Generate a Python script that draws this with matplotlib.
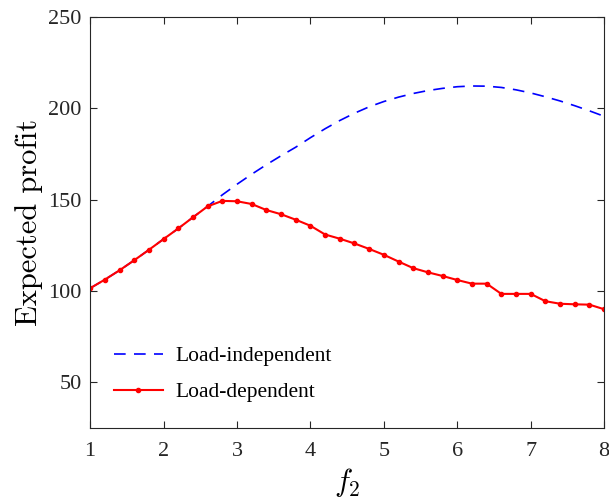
import matplotlib
matplotlib.use("Agg")
import matplotlib.pyplot as plt
import numpy as np

# f2 grid used for both curves
f2 = [1.0, 1.2, 1.4, 1.6, 1.8, 2.0, 2.2, 2.4, 2.6, 2.8,
      3.0, 3.2, 3.4, 3.6, 3.8, 4.0, 4.2, 4.4, 4.6, 4.8,
      5.0, 5.2, 5.4, 5.6, 5.8, 6.0, 6.2, 6.4, 6.6, 6.8,
      7.0, 7.2, 7.4, 7.6, 7.8, 8.0]

load_independent = [101.5, 106.2, 111.3, 116.8, 122.5, 128.4, 134.2, 140.3, 146.3, 152.6,
                    158.4, 163.9, 169.1, 174.0, 178.7, 183.9, 188.8, 193.3, 197.3, 200.8,
                    203.7, 206.1, 208.1, 209.7, 210.9, 211.8, 212.2, 212.1, 211.4, 210.1,
                    208.4, 206.3, 204.0, 201.4, 198.6, 195.6]

load_dependent = [101.5, 106.2, 111.3, 116.8, 122.5, 128.4, 134.2, 140.3, 146.3, 149.3,
                  149.1, 147.6, 144.3, 142.0, 139.0, 135.7, 130.9, 128.6, 126.0, 123.0,
                  119.8, 116.1, 112.5, 110.2, 108.2, 106.0, 104.0, 104.0, 98.4, 98.4,
                  98.4, 94.4, 93.0, 92.7, 92.5, 90.0]

xticks = [1, 2, 3, 4, 5, 6, 7, 8]
yticks = [50, 100, 150, 200, 250]

plt.rcParams["font.family"] = "Liberation Serif"
plt.rcParams["mathtext.fontset"] = "cm"

fig = plt.figure(figsize=(6.09, 4.98), dpi=100)
ax = fig.add_axes([0.148, 0.1406, 0.844, 0.8254])

ax.plot(f2, load_independent, color="#0000ff", linestyle=(0, (7, 5)), linewidth=1.2,
        label="Load-independent")
ax.plot(f2, load_dependent, color="#ff0000", linestyle="-", linewidth=1.5,
        marker=".", markersize=6, label="Load-dependent")

ax.set_xlim(1, 8)
ax.set_ylim(25, 250)
ax.set_xticks(xticks)
ax.set_yticks(yticks)
ax.tick_params(direction="in", top=True, right=True, labelsize=16,
               colors="#262626", length=5, width=0.8)
ax.tick_params(axis="x", pad=10)
ax.tick_params(axis="y", pad=6)
for t in ax.get_xticklabels() + ax.get_yticklabels():
    t.set_color("#262626")
for s in ax.spines.values():
    s.set_color("#262626")
    s.set_linewidth(0.8)

ax.set_ylabel("Expected profit", fontfamily="cmr10", fontsize=22, labelpad=4)
ax.set_xlabel(r"$f_2$", fontsize=22, labelpad=4)

ax.legend(loc="lower left", bbox_to_anchor=(0.008, 0.015), frameon=False,
          fontsize=15.5, handlelength=2.3, handletextpad=0.55, labelspacing=0.75)

fig.savefig("out.png", dpi=100)
